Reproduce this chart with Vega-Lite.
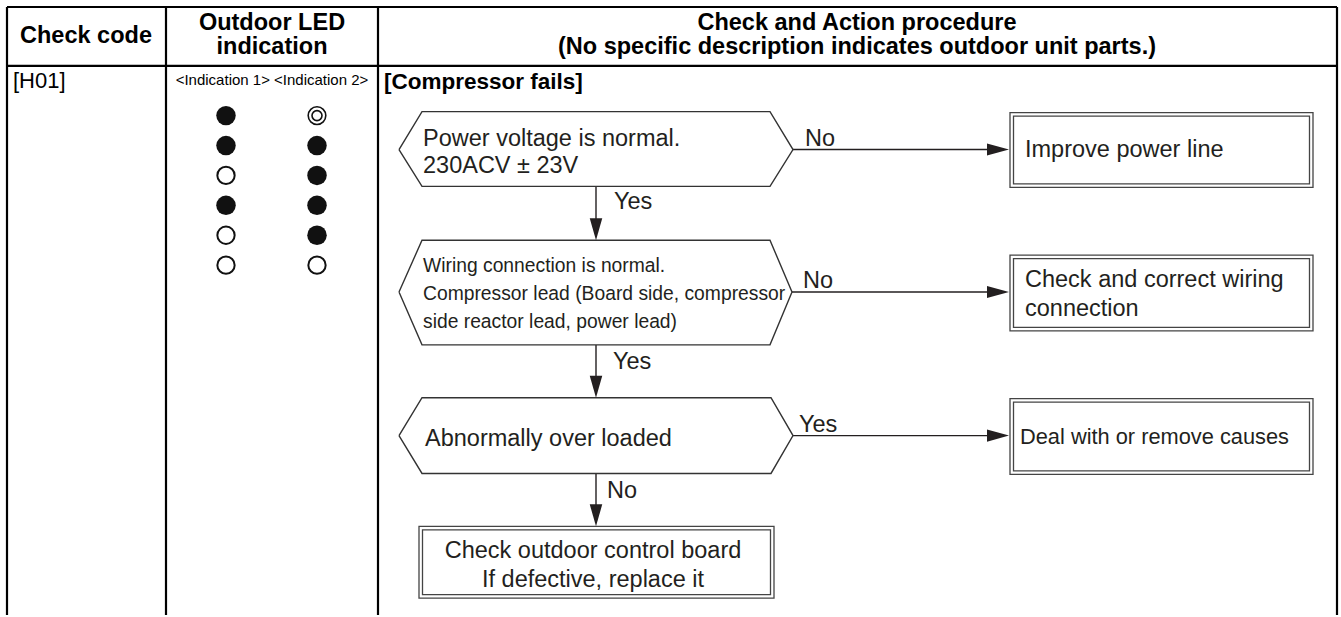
{
  "$schema": "https://vega.github.io/schema/vega-lite/v6.json",
  "width": 1341,
  "height": 617,
  "autosize": {"type": "fit", "contains": "padding"},
  "padding": 0,
  "background": "white",
  "config": {"view": {"stroke": null}, "axis": {"disable": true}},
  "datasets": {
    "lines": [
      {"kind": "table", "x": 7, "y": 7, "x2": 1337, "y2": 7},
      {"kind": "table", "x": 7, "y": 66, "x2": 1337, "y2": 66},
      {"kind": "table", "x": 7, "y": 7, "x2": 7, "y2": 617},
      {"kind": "table", "x": 166, "y": 7, "x2": 166, "y2": 617},
      {"kind": "table", "x": 378, "y": 7, "x2": 378, "y2": 617},
      {"kind": "table", "x": 1337, "y": 7, "x2": 1337, "y2": 617},
      {"kind": "flow", "x": 793, "y": 150, "x2": 998, "y2": 150},
      {"kind": "flow", "x": 792, "y": 293, "x2": 998, "y2": 293},
      {"kind": "flow", "x": 793, "y": 437, "x2": 998, "y2": 437},
      {"kind": "flow", "x": 596, "y": 187, "x2": 596, "y2": 230},
      {"kind": "flow", "x": 596, "y": 346, "x2": 596, "y2": 388},
      {"kind": "flow", "x": 596, "y": 475, "x2": 596, "y2": 517}
    ],
    "hex": [
      {"id": "h1", "i": 0, "x": 399, "y": 150}, {"id": "h1", "i": 1, "x": 422, "y": 112},
      {"id": "h1", "i": 2, "x": 770, "y": 112}, {"id": "h1", "i": 3, "x": 793, "y": 150},
      {"id": "h1", "i": 4, "x": 770, "y": 187}, {"id": "h1", "i": 5, "x": 422, "y": 187},
      {"id": "h1", "i": 6, "x": 399, "y": 150},
      {"id": "h2", "i": 0, "x": 399, "y": 293}, {"id": "h2", "i": 1, "x": 422, "y": 241},
      {"id": "h2", "i": 2, "x": 770, "y": 241}, {"id": "h2", "i": 3, "x": 792, "y": 293},
      {"id": "h2", "i": 4, "x": 770, "y": 346}, {"id": "h2", "i": 5, "x": 422, "y": 346},
      {"id": "h2", "i": 6, "x": 399, "y": 293},
      {"id": "h3", "i": 0, "x": 399, "y": 437}, {"id": "h3", "i": 1, "x": 422, "y": 399},
      {"id": "h3", "i": 2, "x": 771, "y": 399}, {"id": "h3", "i": 3, "x": 793, "y": 437},
      {"id": "h3", "i": 4, "x": 771, "y": 475}, {"id": "h3", "i": 5, "x": 422, "y": 475},
      {"id": "h3", "i": 6, "x": 399, "y": 437}
    ],
    "boxes": [
      {"id": "b1", "x": 1010, "y": 113, "x2": 1313, "y2": 188},
      {"id": "b2", "x": 1010, "y": 256, "x2": 1313, "y2": 332},
      {"id": "b3", "x": 1010, "y": 400, "x2": 1313, "y2": 476},
      {"id": "b4", "x": 419, "y": 528, "x2": 774, "y2": 600}
    ],
    "arrows": [
      {"dir": "right", "x": 998, "y": 150},
      {"dir": "right", "x": 998, "y": 293},
      {"dir": "right", "x": 998, "y": 437},
      {"dir": "down", "x": 596, "y": 230},
      {"dir": "down", "x": 596, "y": 388},
      {"dir": "down", "x": 596, "y": 517}
    ],
    "leds": [
      {"col": "Indication 1", "x": 226, "y": 116, "state": "on"},
      {"col": "Indication 1", "x": 226, "y": 146, "state": "on"},
      {"col": "Indication 1", "x": 226, "y": 176, "state": "off"},
      {"col": "Indication 1", "x": 226, "y": 206, "state": "on"},
      {"col": "Indication 1", "x": 226, "y": 236, "state": "off"},
      {"col": "Indication 1", "x": 226, "y": 266, "state": "off"},
      {"col": "Indication 2", "x": 317, "y": 116, "state": "blink"},
      {"col": "Indication 2", "x": 317, "y": 146, "state": "on"},
      {"col": "Indication 2", "x": 317, "y": 176, "state": "on"},
      {"col": "Indication 2", "x": 317, "y": 206, "state": "on"},
      {"col": "Indication 2", "x": 317, "y": 236, "state": "on"},
      {"col": "Indication 2", "x": 317, "y": 266, "state": "off"}
    ],
    "texts": [
      {"role": "head", "x": 86, "y": 36, "text": "Check code"},
      {"role": "head", "x": 272, "y": 23, "text": "Outdoor LED"},
      {"role": "head", "x": 272, "y": 47, "text": "indication"},
      {"role": "head", "x": 857, "y": 23, "text": "Check and Action procedure"},
      {"role": "head", "x": 857, "y": 47, "text": "(No specific description indicates outdoor unit parts.)"},
      {"role": "code", "x": 13, "y": 81, "text": "[H01]"},
      {"role": "narrow", "x": 272, "y": 80, "text": "<Indication 1> <Indication 2>"},
      {"role": "title", "x": 384, "y": 82, "text": "[Compressor fails]"},
      {"role": "body", "x": 423, "y": 139, "text": "Power voltage is normal."},
      {"role": "body", "x": 423, "y": 167, "text": "230ACV ± 23V"},
      {"role": "small", "x": 423, "y": 267, "text": "Wiring connection is normal."},
      {"role": "small", "x": 423, "y": 295, "text": "Compressor lead (Board side, compressor"},
      {"role": "small", "x": 423, "y": 323, "text": "side reactor lead, power lead)"},
      {"role": "body", "x": 425, "y": 440, "text": "Abnormally over loaded"},
      {"role": "body", "x": 805, "y": 139, "text": "No"},
      {"role": "body", "x": 614, "y": 203, "text": "Yes"},
      {"role": "body", "x": 803, "y": 282, "text": "No"},
      {"role": "body", "x": 613, "y": 363, "text": "Yes"},
      {"role": "body", "x": 799, "y": 426, "text": "Yes"},
      {"role": "body", "x": 607, "y": 493, "text": "No"},
      {"role": "body", "x": 1025, "y": 150, "text": "Improve power line"},
      {"role": "body", "x": 1025, "y": 281, "text": "Check and correct wiring"},
      {"role": "body", "x": 1025, "y": 310, "text": "connection"},
      {"role": "box3", "x": 1020, "y": 438, "text": "Deal with or remove causes"},
      {"role": "bodyc", "x": 593, "y": 553, "text": "Check outdoor control board"},
      {"role": "bodyc", "x": 593, "y": 582, "text": "If defective, replace it"}
    ]
  },
  "encoding": {
    "x": {"field": "x", "type": "quantitative", "scale": {"domain": [0, 1341], "nice": false, "zero": false}, "axis": null},
    "y": {"field": "y", "type": "quantitative", "scale": {"domain": [0, 617], "nice": false, "zero": false, "reverse": true}, "axis": null}
  },
  "layer": [
    {
      "data": {"name": "lines"},
      "transform": [{"filter": "datum.kind === 'table'"}],
      "mark": {"type": "rule", "color": "#000000", "strokeWidth": 2.2},
      "encoding": {"x2": {"field": "x2"}, "y2": {"field": "y2"}}
    },
    {
      "data": {"name": "lines"},
      "transform": [{"filter": "datum.kind === 'flow'"}],
      "mark": {"type": "rule", "color": "#231f20", "strokeWidth": 1.4},
      "encoding": {"x2": {"field": "x2"}, "y2": {"field": "y2"}}
    },
    {
      "data": {"name": "hex"},
      "mark": {"type": "line", "color": "#333333", "strokeWidth": 1.4, "strokeJoin": "miter"},
      "encoding": {"detail": {"field": "id"}, "order": {"field": "i", "type": "quantitative"}}
    },
    {
      "data": {"name": "boxes"},
      "mark": {"type": "rect", "fill": null, "fillOpacity": 0, "stroke": "#444444", "strokeWidth": 1.3},
      "encoding": {"x2": {"field": "x2"}, "y2": {"field": "y2"}}
    },
    {
      "data": {"name": "boxes"},
      "mark": {"type": "rect", "fill": null, "fillOpacity": 0, "stroke": "#444444", "strokeWidth": 1.3, "xOffset": 3.5, "x2Offset": -3.5, "yOffset": 3.5, "y2Offset": -3.5},
      "encoding": {"x2": {"field": "x2"}, "y2": {"field": "y2"}}
    },
    {
      "data": {"name": "arrows"},
      "transform": [{"filter": "datum.dir === 'right'"}],
      "mark": {"type": "point", "shape": "M-1,-0.55L1,0L-1,0.55Z", "filled": true, "color": "#231f20", "size": 484, "opacity": 1, "strokeWidth": 0}
    },
    {
      "data": {"name": "arrows"},
      "transform": [{"filter": "datum.dir === 'down'"}],
      "mark": {"type": "point", "shape": "M-0.57,-1L0,1L0.57,-1Z", "filled": true, "color": "#231f20", "size": 484, "opacity": 1, "strokeWidth": 0}
    },
    {
      "data": {"name": "leds"},
      "transform": [{"filter": "datum.state === 'on'"}],
      "mark": {"type": "point", "shape": "circle", "filled": true, "color": "#111111", "size": 380, "opacity": 1, "strokeWidth": 0}
    },
    {
      "data": {"name": "leds"},
      "transform": [{"filter": "datum.state === 'off'"}],
      "mark": {"type": "point", "shape": "circle", "filled": false, "color": "#111111", "size": 300, "opacity": 1, "strokeWidth": 2}
    },
    {
      "data": {"name": "leds"},
      "transform": [{"filter": "datum.state === 'blink'"}],
      "mark": {"type": "point", "shape": "circle", "filled": false, "color": "#111111", "size": 310, "opacity": 1, "strokeWidth": 1.6}
    },
    {
      "data": {"name": "leds"},
      "transform": [{"filter": "datum.state === 'blink'"}],
      "mark": {"type": "point", "shape": "circle", "filled": false, "color": "#111111", "size": 100, "opacity": 1, "strokeWidth": 1.6}
    },
    {
      "data": {"name": "texts"},
      "transform": [{"filter": "datum.role === 'head'"}],
      "mark": {"type": "text", "font": "Liberation Sans", "fontWeight": "bold", "fontSize": 23.5, "align": "center", "baseline": "middle", "color": "#000000"},
      "encoding": {"text": {"field": "text"}}
    },
    {
      "data": {"name": "texts"},
      "transform": [{"filter": "datum.role === 'title'"}],
      "mark": {"type": "text", "font": "Liberation Sans", "fontWeight": "bold", "fontSize": 22.5, "align": "left", "baseline": "middle", "color": "#000000"},
      "encoding": {"text": {"field": "text"}}
    },
    {
      "data": {"name": "texts"},
      "transform": [{"filter": "datum.role === 'code'"}],
      "mark": {"type": "text", "font": "Liberation Sans", "fontSize": 22, "align": "left", "baseline": "middle", "color": "#000000"},
      "encoding": {"text": {"field": "text"}}
    },
    {
      "data": {"name": "texts"},
      "transform": [{"filter": "datum.role === 'narrow'"}],
      "mark": {"type": "text", "font": "Liberation Sans", "fontSize": 15, "align": "center", "baseline": "middle", "color": "#000000"},
      "encoding": {"text": {"field": "text"}}
    },
    {
      "data": {"name": "texts"},
      "transform": [{"filter": "datum.role === 'body'"}],
      "mark": {"type": "text", "font": "Liberation Sans", "fontSize": 23.5, "align": "left", "baseline": "middle", "color": "#231f20"},
      "encoding": {"text": {"field": "text"}}
    },
    {
      "data": {"name": "texts"},
      "transform": [{"filter": "datum.role === 'bodyc'"}],
      "mark": {"type": "text", "font": "Liberation Sans", "fontSize": 23.5, "align": "center", "baseline": "middle", "color": "#231f20"},
      "encoding": {"text": {"field": "text"}}
    },
    {
      "data": {"name": "texts"},
      "transform": [{"filter": "datum.role === 'small'"}],
      "mark": {"type": "text", "font": "Liberation Sans", "fontSize": 19.3, "align": "left", "baseline": "middle", "color": "#231f20"},
      "encoding": {"text": {"field": "text"}}
    },
    {
      "data": {"name": "texts"},
      "transform": [{"filter": "datum.role === 'box3'"}],
      "mark": {"type": "text", "font": "Liberation Sans", "fontSize": 21.8, "align": "left", "baseline": "middle", "color": "#231f20"},
      "encoding": {"text": {"field": "text"}}
    }
  ]
}
